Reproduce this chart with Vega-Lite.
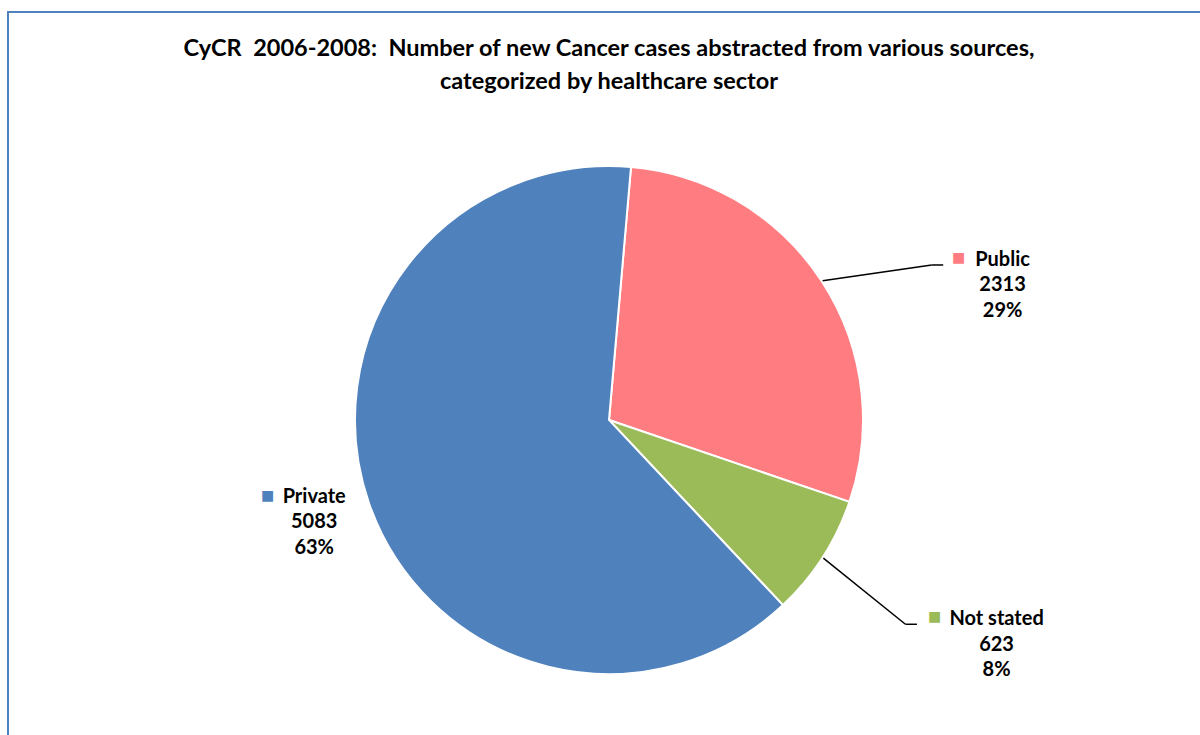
{
  "$schema": "https://vega.github.io/schema/vega-lite/v6.json",
  "width": 1202,
  "height": 816,
  "autosize": {"type": "none"},
  "padding": {"left": 8, "top": 12, "right": 0, "bottom": 0},
  "background": "white",
  "config": {"view": {"stroke": "#4F81BD", "strokeWidth": 2}, "font": "Lato"},
  "title": {
    "text": ["CyCR\u00a0 2006-2008:\u00a0 Number of new Cancer cases abstracted from various sources,", "categorized by healthcare sector"],
    "frame": "group",
    "anchor": "middle",
    "baseline": "alphabetic",
    "offset": -100,
    "font": "Lato",
    "fontWeight": "bold",
    "fontSize": 23.5,
    "lineHeight": 32.5,
    "color": "#000000"
  },
  "data": {
    "values": [
      {"sector": "Public", "cases": 2313},
      {"sector": "Not stated", "cases": 623},
      {"sector": "Private", "cases": 5083}
    ]
  },
  "transform": [
    {"joinaggregate": [{"op": "sum", "field": "cases", "as": "total"}]},
    {"stack": "cases", "groupby": [], "as": ["s0", "s1"]},
    {"calculate": "(datum.s0 + datum.s1) / 2", "as": "mid"},
    {"calculate": "0.0868 + 2 * PI * datum.mid / datum.total", "as": "midAngle"},
    {"calculate": "datum.sector + '\\n' + datum.cases + '\\n' + format(datum.cases / datum.total, '.0%')", "as": "label"}
  ],
  "layer": [
    {
      "mark": {"type": "arc", "outerRadius": 254, "stroke": "white", "strokeWidth": 2},
      "encoding": {
        "theta": {"field": "s0", "type": "quantitative", "stack": null, "scale": {"domain": [0, 8019], "zero": true, "nice": false, "range": [0.0868, 6.37]}},
        "theta2": {"field": "s1"},
        "color": {"field": "sector", "type": "nominal", "legend": null, "scale": {"domain": ["Public", "Not stated", "Private"], "range": ["#FF7C80", "#9BBB59", "#4F81BD"]}}
      }
    },
    {
      "transform": [{"filter": "datum.sector == 'Public'"}],
      "mark": {"type": "text", "radius": 416, "thetaOffset": 0.248, "dy": -25.5, "lineBreak": "\n", "lineHeight": 25.5, "fontWeight": "bold", "fontSize": 20, "align": "center", "baseline": "middle", "color": "#000000"},
      "encoding": {"theta": {"field": "mid", "type": "quantitative", "stack": null}, "text": {"field": "label"}}
    },
    {
      "transform": [{"filter": "datum.sector == 'Public'"}],
      "mark": {"type": "text", "radius": 416, "thetaOffset": 0.248, "dx": -44, "dy": -27, "fontSize": 14, "font": "DejaVu Sans", "align": "center", "baseline": "middle", "text": "■"},
      "encoding": {"theta": {"field": "mid", "type": "quantitative", "stack": null}, "color": {"field": "sector", "type": "nominal", "legend": null}}
    },
    {
      "transform": [{"filter": "datum.sector == 'Not stated'"}],
      "mark": {"type": "text", "radius": 448, "thetaOffset": -0.047, "dy": -25.5, "lineBreak": "\n", "lineHeight": 25.5, "fontWeight": "bold", "fontSize": 20, "align": "center", "baseline": "middle", "color": "#000000"},
      "encoding": {"theta": {"field": "mid", "type": "quantitative", "stack": null}, "text": {"field": "label"}}
    },
    {
      "transform": [{"filter": "datum.sector == 'Not stated'"}],
      "mark": {"type": "text", "radius": 448, "thetaOffset": -0.047, "dx": -62, "dy": -27.5, "fontSize": 14, "font": "DejaVu Sans", "align": "center", "baseline": "middle", "text": "■"},
      "encoding": {"theta": {"field": "mid", "type": "quantitative", "stack": null}, "color": {"field": "sector", "type": "nominal", "legend": null}}
    },
    {
      "transform": [{"filter": "datum.sector == 'Private'"}],
      "mark": {"type": "text", "radius": 312, "dy": -25.5, "lineBreak": "\n", "lineHeight": 25.5, "fontWeight": "bold", "fontSize": 20, "align": "center", "baseline": "middle", "color": "#000000"},
      "encoding": {"theta": {"field": "mid", "type": "quantitative", "stack": null}, "text": {"field": "label"}}
    },
    {
      "transform": [{"filter": "datum.sector == 'Private'"}],
      "mark": {"type": "text", "radius": 312, "dx": -46.5, "dy": -26.7, "fontSize": 14, "font": "DejaVu Sans", "align": "center", "baseline": "middle", "text": "■"},
      "encoding": {"theta": {"field": "mid", "type": "quantitative", "stack": null}, "color": {"field": "sector", "type": "nominal", "legend": null}}
    },
    {
      "transform": [
        {"filter": "datum.sector != 'Private'"},
        {"calculate": "255 * sin(datum.midAngle)", "as": "lx0"},
        {"calculate": "-255 * cos(datum.midAngle)", "as": "ly0"},
        {"calculate": "datum.sector == 'Public' ? 358 * sin(datum.midAngle + 0.130) : 360 * sin(datum.midAngle + 0.031)", "as": "lx1"},
        {"calculate": "datum.sector == 'Public' ? -358 * cos(datum.midAngle + 0.130) : -360 * cos(datum.midAngle + 0.031)", "as": "ly1"}
      ],
      "mark": {"type": "rule", "color": "#000000", "strokeWidth": 1.5},
      "encoding": {
        "x": {"field": "lx0", "type": "quantitative", "axis": null, "scale": {"domain": [-601, 601], "nice": false, "zero": false}},
        "y": {"field": "ly0", "type": "quantitative", "axis": null, "scale": {"domain": [-408, 408], "nice": false, "zero": false, "reverse": true}},
        "x2": {"field": "lx1"},
        "y2": {"field": "ly1"}
      }
    },
    {
      "transform": [
        {"filter": "datum.sector != 'Private'"},
        {"calculate": "datum.sector == 'Public' ? 358 * sin(datum.midAngle + 0.130) : 360 * sin(datum.midAngle + 0.031)", "as": "lx1"},
        {"calculate": "datum.sector == 'Public' ? -358 * cos(datum.midAngle + 0.130) : -360 * cos(datum.midAngle + 0.031)", "as": "ly1"},
        {"calculate": "datum.lx1 + 11.5", "as": "lx2"}
      ],
      "mark": {"type": "rule", "color": "#000000", "strokeWidth": 1.5},
      "encoding": {
        "x": {"field": "lx1", "type": "quantitative"},
        "y": {"field": "ly1", "type": "quantitative"},
        "x2": {"field": "lx2"}
      }
    }
  ]
}
